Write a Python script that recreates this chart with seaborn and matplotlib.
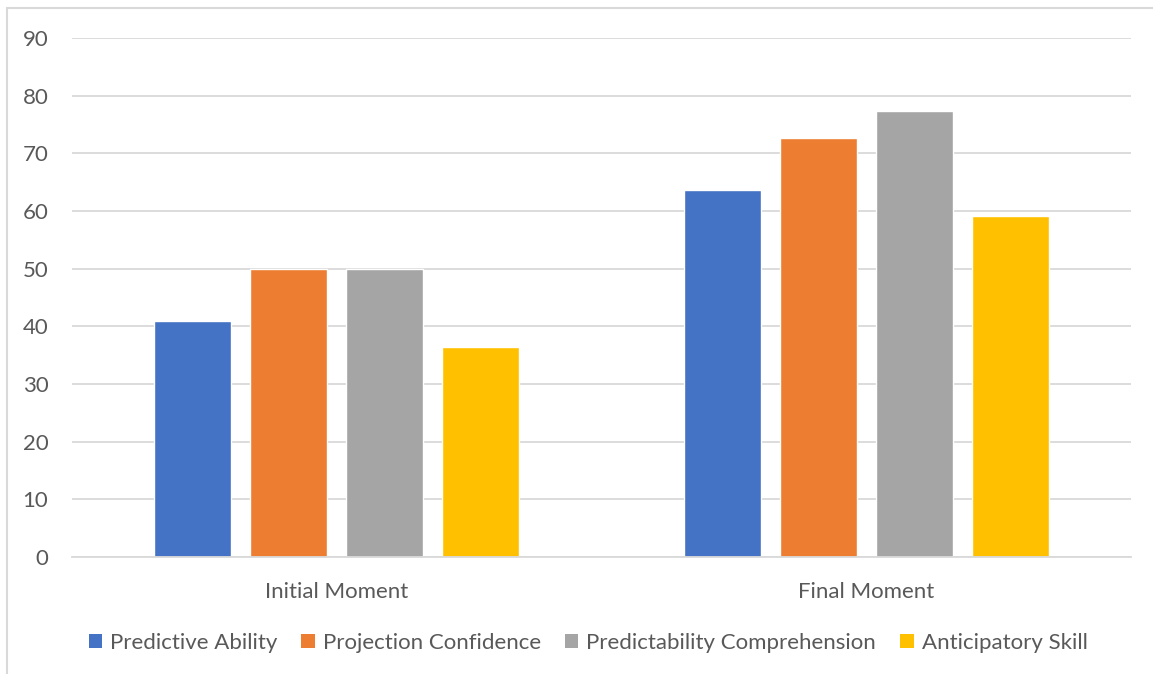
import matplotlib
matplotlib.use("Agg")
import matplotlib.pyplot as plt
from matplotlib.patches import Rectangle, Patch
import seaborn as sns
import pandas as pd

moments = ["Initial Moment", "Final Moment"]
series = ["Predictive Ability", "Projection Confidence",
          "Predictability Comprehension", "Anticipatory Skill"]
predictive_ability = [40.9, 63.6]
projection_confidence = [50.0, 72.7]
predictability_comprehension = [50.0, 77.3]
anticipatory_skill = [36.4, 59.1]
y_ticks = [0, 10, 20, 30, 40, 50, 60, 70, 80, 90]

colors = ["#4472C4", "#ED7D31", "#A5A5A5", "#FFC000"]
text_color = "#595959"
grid_color = "#D9D9D9"

rows = []
for name, vals in zip(series, [predictive_ability, projection_confidence,
                               predictability_comprehension, anticipatory_skill]):
    for m, v in zip(moments, vals):
        rows.append({"Moment": m, "Series": name, "Value": v})
df = pd.DataFrame(rows)

sns.set_theme(style="white")
plt.rcParams["font.family"] = ["Lato", "DejaVu Sans"]

W, H = 1153, 674
fig = plt.figure(figsize=(W / 100, H / 100), dpi=100)
ax = fig.add_axes([72 / W, 1 - 557 / H, (1131 - 72) / W, (557 - 38) / H])

sns.barplot(data=df, x="Moment", y="Value", hue="Series", order=moments,
            hue_order=series, palette=colors, width=0.725, gap=0.2,
            saturation=1, ax=ax, legend=False, errorbar=None)

ax.set_xlim(-0.5, 1.5)
ax.set_ylim(0, 90)
ax.set_yticks(y_ticks)
ax.set_yticklabels([str(t) for t in y_ticks])
ax.yaxis.grid(True, color=grid_color, linewidth=1.3)
ax.set_axisbelow(True)
for s in ["top", "right", "left"]:
    ax.spines[s].set_visible(False)
ax.spines["bottom"].set_color(grid_color)
ax.spines["bottom"].set_linewidth(1.3)
ax.tick_params(axis="y", length=0, pad=17, labelsize=16, labelcolor=text_color)
ax.tick_params(axis="x", length=0, pad=18, labelsize=16, labelcolor=text_color)
ax.set_xlabel("")
ax.set_ylabel("")

handles = [Patch(facecolor=c, edgecolor="none") for c in colors]
fig.legend(handles, series, loc="center", ncol=4,
           bbox_to_anchor=(588 / W, 1 - 643 / H), frameon=False,
           fontsize=16, labelcolor=text_color, handlelength=0.6,
           handleheight=0.6, handletextpad=0.35, columnspacing=1.1)

fig.add_artist(Rectangle((7 / W, -0.05), 1.2, 1.05 - 8 / H,
                         transform=fig.transFigure, fill=False,
                         edgecolor=grid_color, linewidth=1.5))

fig.savefig("out.png", dpi=100)
